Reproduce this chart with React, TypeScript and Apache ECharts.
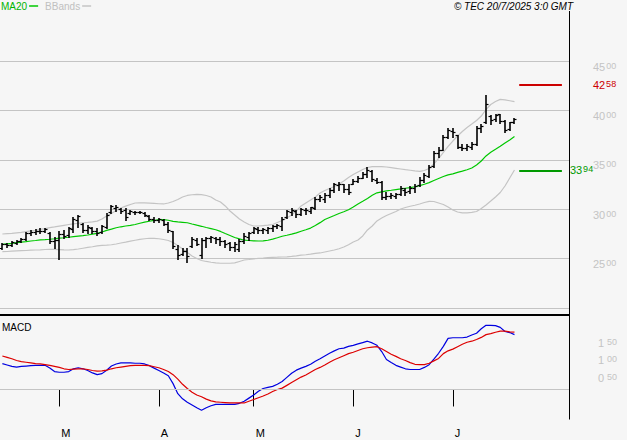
import { useEffect, useRef } from "react";
import * as echarts from "echarts";

// ---- data ----
const slotCount = 120; // trading-day slots on the time axis (incl. empty future space)
const monthStartIdx = [12, 33, 53, 74, 95];
const monthLabels = ["M", "A", "M", "J", "J"];

const opens = [26.1, 26.45, 26.4, 26.6, 26.8, 26.95, 27.6, 27.7, 27.8, 27.8, 27.6, 26.8, 26.9, 27.5, 27.4, 28.0, 28.9, 28.5, 27.9, 28.1, 27.8, 27.7, 28.2, 29.7, 30.1, 30.0, 29.9, 29.6, 29.7, 29.7, 29.6, 29.3, 29.0, 28.9, 28.9, 28.5, 27.8, 26.0, 25.5, 25.8, 26.3, 26.9, 25.4, 26.9, 27.1, 27.1, 27.0, 26.8, 26.6, 26.2, 26.0, 26.8, 27.2, 27.7, 28.0, 27.9, 27.9, 28.1, 28.3, 28.3, 29.2, 29.7, 29.8, 29.5, 29.9, 29.8, 30.1, 31.0, 31.0, 31.4, 31.9, 32.4, 32.5, 32.0, 32.6, 32.9, 33.2, 33.6, 33.9, 33.0, 32.8, 31.2, 31.3, 31.3, 31.5, 31.9, 31.8, 32.1, 32.4, 33.0, 33.4, 34.4, 35.7, 36.0, 37.3, 37.9, 37.5, 36.3, 36.2, 36.3, 36.6, 38.2, 38.8, 39.4, 39.1, 39.6, 38.9, 38.1, 38.8];
const highs = [26.58, 26.55, 26.78, 26.88, 27.06, 27.72, 27.9, 27.97, 28.07, 28.13, 27.66, 27.22, 27.76, 27.86, 28.23, 29.21, 29.46, 28.57, 28.4, 28.23, 28.13, 28.4, 29.59, 30.43, 30.43, 30.12, 30.09, 29.92, 29.85, 29.85, 29.69, 29.41, 29.24, 29.14, 29.01, 28.71, 27.8, 26.4, 26.11, 26.04, 27.22, 27.06, 27.06, 27.19, 27.29, 27.22, 27.16, 26.88, 26.71, 26.71, 26.96, 27.56, 27.72, 28.23, 28.23, 28.13, 28.23, 28.4, 28.5, 29.18, 29.92, 30.09, 29.92, 30.15, 30.15, 30.26, 31.21, 31.44, 31.67, 32.12, 32.68, 32.79, 32.55, 32.55, 33.03, 33.36, 33.8, 34.24, 33.97, 33.13, 32.89, 31.77, 31.67, 31.67, 32.35, 32.12, 32.35, 32.55, 33.21, 33.64, 34.48, 35.89, 36.33, 37.51, 38.25, 38.19, 37.51, 36.57, 36.57, 36.77, 38.42, 38.59, 41.56, 39.53, 39.61, 39.61, 39.03, 38.86, 39.2];
const lows = [26.02, 26.21, 26.31, 26.45, 26.65, 26.88, 27.39, 27.46, 27.56, 27.66, 26.55, 26.11, 25.01, 27.06, 27.22, 27.69, 28.23, 27.72, 27.56, 27.56, 27.39, 27.56, 28.07, 29.59, 29.82, 29.59, 28.91, 29.49, 29.52, 29.59, 29.34, 28.91, 28.74, 28.74, 28.4, 27.72, 26.04, 25.0, 25.37, 24.69, 26.21, 26.38, 25.03, 26.18, 26.72, 26.55, 26.38, 26.21, 25.87, 25.8, 25.77, 26.61, 26.88, 27.62, 27.62, 27.56, 27.62, 27.83, 28.07, 27.9, 29.08, 29.41, 29.18, 29.41, 29.52, 29.59, 30.02, 30.86, 30.76, 31.27, 31.77, 31.95, 31.77, 31.54, 32.55, 32.79, 33.13, 33.29, 32.89, 32.68, 31.0, 31.0, 31.1, 31.1, 31.44, 31.44, 31.61, 31.77, 32.35, 32.79, 33.29, 34.3, 35.32, 35.99, 37.18, 37.34, 36.17, 35.99, 35.99, 36.09, 36.5, 37.85, 38.7, 38.59, 38.93, 38.7, 37.85, 38.02, 38.7];
const closes = [26.5, 26.4, 26.7, 26.8, 26.95, 27.6, 27.7, 27.8, 27.75, 28.0, 26.8, 26.9, 27.5, 27.3, 28.1, 29.0, 29.3, 27.9, 28.2, 27.8, 27.6, 28.3, 29.4, 30.3, 30.2, 29.8, 29.2, 29.8, 29.7, 29.75, 29.4, 29.0, 28.9, 29.0, 28.5, 27.9, 26.3, 25.4, 25.8, 25.3, 27.0, 26.5, 26.9, 27.1, 27.2, 27.0, 26.8, 26.5, 26.2, 26.5, 26.8, 27.3, 27.6, 28.1, 27.9, 28.0, 28.1, 28.3, 28.4, 29.0, 29.8, 29.9, 29.5, 30.0, 29.9, 30.2, 31.0, 31.2, 31.4, 31.9, 32.5, 32.6, 32.0, 31.7, 32.9, 33.2, 33.6, 34.0, 33.1, 32.8, 31.2, 31.3, 31.4, 31.5, 32.1, 31.7, 32.1, 32.3, 33.0, 33.5, 34.3, 35.7, 36.0, 37.3, 38.0, 37.8, 36.3, 36.2, 36.4, 36.6, 38.2, 38.4, 40.6, 39.0, 39.5, 38.9, 38.0, 38.8, 39.1];

const ma20 = [26.45, 26.5, 26.55, 26.61, 26.66, 26.71, 26.78, 26.83, 26.89, 26.92, 26.96, 27.01, 27.07, 27.11, 27.16, 27.22, 27.27, 27.32, 27.39, 27.47, 27.56, 27.69, 27.85, 27.98, 28.12, 28.22, 28.3, 28.37, 28.45, 28.58, 28.69, 28.78, 28.86, 28.96, 28.95, 28.88, 28.76, 28.71, 28.67, 28.63, 28.5, 28.38, 28.27, 28.15, 28.04, 27.92, 27.75, 27.54, 27.34, 27.14, 26.99, 26.86, 26.83, 26.8, 26.78, 26.8, 26.86, 26.97, 27.11, 27.26, 27.36, 27.47, 27.6, 27.77, 27.92, 28.09, 28.35, 28.64, 28.96, 29.16, 29.36, 29.57, 29.74, 29.94, 30.22, 30.53, 30.8, 31.08, 31.41, 31.66, 31.76, 31.86, 31.92, 31.99, 32.05, 32.12, 32.19, 32.27, 32.38, 32.53, 32.69, 32.91, 33.11, 33.31, 33.48, 33.58, 33.72, 33.85, 33.99, 34.17, 34.48, 34.88, 35.39, 35.76, 36.06, 36.37, 36.7, 37.01, 37.36];
const bbUpper = [27.49, 27.52, 27.55, 27.6, 27.65, 27.73, 27.8, 27.87, 27.95, 28.04, 28.14, 28.21, 28.29, 28.37, 28.45, 28.52, 28.58, 28.63, 28.67, 28.72, 28.79, 29.01, 29.31, 29.57, 29.87, 30.12, 30.31, 30.48, 30.63, 30.65, 30.64, 30.61, 30.58, 30.55, 30.53, 30.63, 30.78, 30.98, 31.24, 31.39, 31.46, 31.51, 31.48, 31.39, 31.24, 30.93, 30.73, 30.33, 29.82, 29.42, 29.01, 28.71, 28.45, 28.3, 28.3, 28.34, 28.38, 28.45, 28.66, 28.86, 29.11, 29.42, 29.82, 30.33, 30.63, 30.93, 31.24, 31.64, 31.89, 32.1, 32.3, 32.55, 32.86, 33.21, 33.51, 33.77, 34.02, 34.22, 34.3, 34.3, 34.3, 34.27, 34.21, 34.14, 34.07, 34.0, 33.94, 33.87, 33.82, 33.92, 34.12, 34.58, 35.13, 35.74, 36.35, 36.9, 37.41, 37.87, 38.27, 38.62, 38.98, 39.43, 40.09, 40.6, 40.9, 41.12, 41.07, 40.98, 40.88];
const bbLower = [25.7, 25.72, 25.75, 25.78, 25.8, 25.82, 25.85, 25.87, 25.89, 25.92, 25.94, 25.93, 25.91, 25.88, 25.87, 25.91, 25.97, 26.05, 26.13, 26.2, 26.28, 26.33, 26.36, 26.4, 26.48, 26.58, 26.66, 26.76, 26.86, 26.94, 27.01, 27.06, 27.05, 27.01, 26.93, 26.83, 26.63, 26.33, 25.97, 25.62, 25.27, 25.01, 24.81, 24.71, 24.63, 24.56, 24.53, 24.53, 24.53, 24.56, 24.71, 24.86, 24.91, 24.98, 25.03, 25.06, 25.1, 25.13, 25.14, 25.16, 25.18, 25.22, 25.27, 25.35, 25.39, 25.45, 25.53, 25.57, 25.67, 25.77, 25.87, 26.0, 26.18, 26.4, 26.68, 26.89, 27.29, 27.9, 28.3, 28.81, 29.11, 29.36, 29.57, 29.77, 30.02, 30.17, 30.3, 30.4, 30.53, 30.68, 30.8, 30.78, 30.63, 30.48, 30.22, 29.92, 29.72, 29.62, 29.62, 29.67, 29.77, 30.07, 30.43, 30.83, 31.24, 31.69, 32.35, 33.16, 33.97];

const macdLine = [0.75, 0.71, 0.67, 0.65, 0.67, 0.68, 0.69, 0.7, 0.7, 0.7, 0.62, 0.52, 0.5, 0.5, 0.52, 0.6, 0.63, 0.6, 0.55, 0.48, 0.43, 0.46, 0.56, 0.68, 0.74, 0.77, 0.77, 0.77, 0.76, 0.76, 0.74, 0.69, 0.62, 0.55, 0.48, 0.4, 0.17, -0.12, -0.27, -0.37, -0.45, -0.53, -0.6, -0.53, -0.47, -0.43, -0.43, -0.43, -0.43, -0.43, -0.4, -0.34, -0.25, -0.16, -0.05, 0.03, 0.06, 0.09, 0.15, 0.23, 0.35, 0.47, 0.56, 0.62, 0.67, 0.73, 0.82, 0.89, 0.97, 1.05, 1.12, 1.18, 1.2, 1.25, 1.28, 1.32, 1.36, 1.4, 1.35, 1.28, 1.1, 0.87, 0.78, 0.7, 0.65, 0.6, 0.58, 0.58, 0.58, 0.64, 0.72, 0.88, 1.05, 1.25, 1.48, 1.5, 1.5, 1.5, 1.52, 1.58, 1.63, 1.76, 1.86, 1.86, 1.85, 1.8, 1.68, 1.65, 1.59];
const signalLine = [0.97, 0.93, 0.89, 0.84, 0.81, 0.79, 0.77, 0.75, 0.74, 0.72, 0.7, 0.67, 0.64, 0.6, 0.58, 0.59, 0.6, 0.6, 0.58, 0.55, 0.53, 0.54, 0.56, 0.6, 0.63, 0.65, 0.67, 0.69, 0.7, 0.7, 0.7, 0.69, 0.66, 0.63, 0.58, 0.52, 0.43, 0.3, 0.15, 0.03, -0.08, -0.16, -0.21, -0.28, -0.33, -0.36, -0.37, -0.38, -0.39, -0.39, -0.39, -0.39, -0.34, -0.29, -0.24, -0.19, -0.13, -0.06, 0.0, 0.04, 0.12, 0.2, 0.28, 0.36, 0.42, 0.5, 0.58, 0.64, 0.71, 0.79, 0.86, 0.92, 0.98, 1.04, 1.08, 1.13, 1.18, 1.21, 1.23, 1.24, 1.18, 1.1, 1.02, 0.96, 0.89, 0.84, 0.78, 0.73, 0.72, 0.72, 0.76, 0.83, 0.9, 1.04, 1.12, 1.17, 1.24, 1.31, 1.37, 1.4, 1.45, 1.51, 1.59, 1.62, 1.66, 1.69, 1.69, 1.67, 1.66];

const priceMin = 20;
const priceMax = 50;
const priceStep = 5;
const macdLabelValues = [0.5, 1, 1.5];
const resistanceLevel = 42.58;
const supportLevel = 33.94;
const levelFromIdx = 109;
const levelToIdx = 118;

const FONT = "'Liberation Sans', Arial, sans-serif";
const AXIS_GREY = "#c4c4c4";

function splitNum(v: number) {
  const [a, b] = v.toFixed(2).split(".");
  return `{a|${a}}{b|${b}}`;
}

export default function App() {
  const ref = useRef<HTMLDivElement>(null);

  useEffect(() => {
    if (!ref.current) return;
    const chart = echarts.init(ref.current, undefined, { renderer: "svg" });
    const categories = Array.from({ length: slotCount }, (_, i) => String(i));
    const ohlc = opens.map((o, i) => [i, o, highs[i], lows[i], closes[i]]);
    const isMonthStart = (idx: number) => monthStartIdx.indexOf(idx) >= 0;

    const richDigits = (color: string, gap = 1) => ({
      a: { fontSize: 11, fontFamily: FONT, color },
      b: { fontSize: 9, fontFamily: FONT, color, verticalAlign: "top", padding: [0, 0, 0, gap] },
    });

    chart.setOption({
      animation: false,
      backgroundColor: "#f6f6f6",
      legend: {
        left: 0,
        top: 0,
        padding: [1, 0, 0, 1],
        align: "right",
        icon: "rect",
        itemWidth: 9,
        itemHeight: 1.5,
        itemGap: 7,
        selectedMode: false,
        textStyle: { fontSize: 10, fontFamily: FONT, padding: [0, -3, 0, 0] },
        data: [
          { name: "MA20", textStyle: { color: "#00b400" } },
          { name: "BBands", textStyle: { color: "#c0c0c0" } },
        ],
      },
      grid: [
        { left: 0, top: 11.6, width: 569, height: 296.4 },
        { left: 0, top: 316, width: 569, height: 103 },
      ],
      xAxis: [
        {
          type: "category",
          gridIndex: 0,
          data: categories,
          boundaryGap: true,
          show: false,
        },
        {
          type: "category",
          gridIndex: 1,
          data: categories,
          boundaryGap: true,
          axisLine: { show: true, lineStyle: { color: "#000", width: 1 } },
          axisTick: {
            show: true,
            alignWithLabel: true,
            length: 17,
            interval: (idx: number) => isMonthStart(idx),
            lineStyle: { color: "#000", width: 1 },
          },
          axisLabel: {
            interval: (idx: number) => isMonthStart(idx),
            formatter: (_v: string, idx: number) => {
              const k = monthStartIdx.indexOf(idx);
              return k >= 0 ? monthLabels[k] : "";
            },
            align: "left",
            margin: 8,
            padding: [0, 0, 0, 2],
            fontSize: 11,
            fontFamily: FONT,
            color: "#000",
          },
          splitLine: { show: false },
        },
      ],
      yAxis: [
        {
          type: "value",
          gridIndex: 0,
          position: "right",
          min: priceMin,
          max: priceMax,
          interval: priceStep,
          axisLine: { show: false },
          axisTick: { show: false },
          splitLine: { show: true, showMaxLine: false, lineStyle: { color: AXIS_GREY, width: 1 } },
          axisLabel: {
            margin: 24,
            verticalAlign: "top",
            formatter: (v: number) => (v <= priceMin || v >= priceMax ? "" : splitNum(v)),
            rich: richDigits("#c4c4c4"),
          },
        },
        {
          type: "value",
          gridIndex: 1,
          position: "right",
          min: -0.855,
          max: 2.13,
          axisLine: { show: false },
          axisTick: { show: false },
          splitLine: { show: false },
          axisLabel: {
            customValues: macdLabelValues,
            margin: 29,
            verticalAlign: "top",
            formatter: (v: number) => splitNum(v),
            rich: richDigits("#c4c4c4", 3),
          },
        },
      ],
      series: [
        {
          name: "TEC",
          type: "custom",
          xAxisIndex: 0,
          yAxisIndex: 0,
          data: ohlc,
          encode: { x: 0, y: [1, 2, 3, 4] },
          renderItem: (_params: any, api: any) => {
            const x = api.value(0);
            const pO = api.coord([x, api.value(1)]);
            const pH = api.coord([x, api.value(2)]);
            const pL = api.coord([x, api.value(3)]);
            const pC = api.coord([x, api.value(4)]);
            const cx = Math.round(pH[0]);
            const yo = Math.round(pO[1]) + 0.5;
            const yc = Math.round(pC[1]) + 0.5;
            const st = { stroke: "#000", lineWidth: 1.6 };
            return {
              type: "group",
              children: [
                { type: "line", shape: { x1: cx, y1: Math.round(pH[1]), x2: cx, y2: Math.round(pL[1]) + 1 }, style: st },
                { type: "line", shape: { x1: cx - 2.5, y1: yo, x2: cx, y2: yo }, style: { stroke: "#000", lineWidth: 1.2 } },
                { type: "line", shape: { x1: cx, y1: yc, x2: cx + 2.5, y2: yc }, style: { stroke: "#000", lineWidth: 1.2 } },
              ],
            };
          },
          z: 5,
        },
        {
          name: "MA20",
          type: "line",
          xAxisIndex: 0,
          yAxisIndex: 0,
          data: ma20,
          showSymbol: false,
          symbol: "none",
          color: "#00c800",
          lineStyle: { color: "#00c800", width: 1.2 },
          z: 4,
          markLine: {
            silent: true,
            symbol: ["none", "none"],
            data: [
              [
                {
                  xAxis: levelFromIdx,
                  yAxis: resistanceLevel,
                  lineStyle: { color: "#cc0000", width: 2, type: "solid" },
                  label: {
                    show: true,
                    position: "end",
                    distance: 31,
                    formatter: () => splitNum(resistanceLevel),
                    rich: richDigits("#cc0000"),
                  },
                },
                { xAxis: levelToIdx, yAxis: resistanceLevel },
              ],
              [
                {
                  xAxis: levelFromIdx,
                  yAxis: supportLevel,
                  lineStyle: { color: "#009900", width: 2, type: "solid" },
                  label: {
                    show: true,
                    position: "end",
                    distance: 8,
                    formatter: () => splitNum(supportLevel),
                    rich: richDigits("#009900"),
                  },
                },
                { xAxis: levelToIdx, yAxis: supportLevel },
              ],
            ],
          },
        },
        {
          name: "BBands",
          type: "line",
          xAxisIndex: 0,
          yAxisIndex: 0,
          data: bbUpper,
          showSymbol: false,
          symbol: "none",
          color: "#c4c4c4",
          lineStyle: { color: "#c4c4c4", width: 1.2 },
          z: 3,
        },
        {
          name: "BBands",
          type: "line",
          xAxisIndex: 0,
          yAxisIndex: 0,
          data: bbLower,
          showSymbol: false,
          symbol: "none",
          color: "#c4c4c4",
          lineStyle: { color: "#c4c4c4", width: 1.2 },
          z: 3,
        },
        {
          name: "MACD",
          type: "line",
          xAxisIndex: 1,
          yAxisIndex: 1,
          data: macdLine,
          showSymbol: false,
          symbol: "none",
          color: "#0000e0",
          lineStyle: { color: "#0000e0", width: 1.2 },
          z: 4,
          markLine: {
            silent: true,
            symbol: ["none", "none"],
            label: { show: false },
            lineStyle: { color: AXIS_GREY, width: 1, type: "solid" },
            data: [{ yAxis: 0 }],
          },
        },
        {
          name: "Signal",
          type: "line",
          xAxisIndex: 1,
          yAxisIndex: 1,
          data: signalLine,
          showSymbol: false,
          symbol: "none",
          color: "#dd0000",
          lineStyle: { color: "#dd0000", width: 1.2 },
          z: 4,
        },
      ],
      graphic: [
        {
          type: "rect",
          silent: true,
          shape: { x: 0, y: 314, width: 569, height: 2 },
          style: { fill: "#000" },
          z: 10,
        },
        {
          type: "line",
          silent: true,
          shape: { x1: 569.5, y1: 11, x2: 569.5, y2: 419.5 },
          style: { stroke: "#000", lineWidth: 1 },
          z: 10,
        },
        {
          type: "text",
          silent: true,
          x: 2,
          y: 322,
          style: { text: "MACD", fontSize: 10, fontFamily: FONT, fill: "#000" },
          z: 10,
        },
        {
          type: "text",
          silent: true,
          x: 573,
          y: 1,
          style: {
            text: "© TEC 20/7/2025 3:0 GMT",
            fontSize: 10,
            fontStyle: "italic",
            fontFamily: FONT,
            fill: "#000",
            align: "right",
          },
          z: 10,
        },
      ],
    });
    return () => chart.dispose();
  }, []);

  return (
    <div
      ref={ref}
      style={{ position: "fixed", left: 0, top: 0, width: 627, height: 440 }}
    />
  );
}
